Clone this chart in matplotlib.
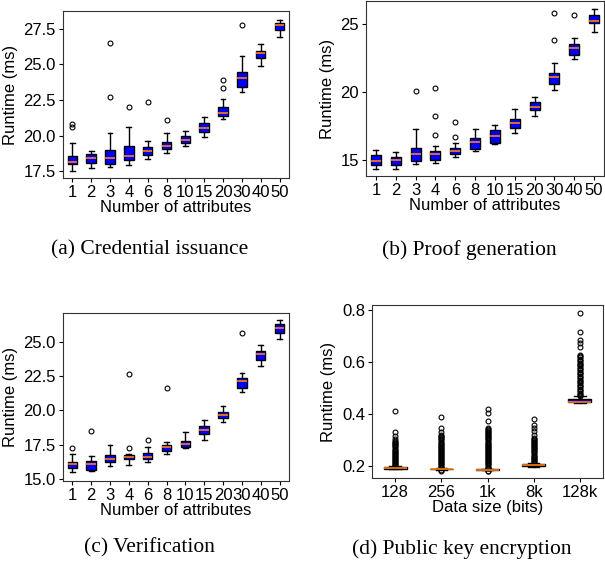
import matplotlib
matplotlib.use("Agg")
import matplotlib.pyplot as plt

# x labels
attrs = ["1", "2", "3", "4", "6", "8", "10", "15", "20", "30", "40", "50"]
sizes = ["128", "256", "1k", "8k", "128k"]

# (whislo, q1, med, q3, whishi) per box
issue_stats = [
    (17.55, 18.01, 18.15, 18.59, 19.48),
    (17.73, 18.08, 18.43, 18.73, 18.90),
    (17.78, 18.01, 18.43, 18.97, 20.22),
    (17.97, 18.27, 18.59, 19.24, 20.60),
    (18.36, 18.66, 18.94, 19.22, 19.66),
    (18.78, 19.08, 19.29, 19.59, 20.22),
    (19.24, 19.48, 19.71, 19.99, 20.36),
    (19.90, 20.29, 20.52, 20.92, 21.29),
    (21.15, 21.38, 21.62, 22.03, 22.55),
    (23.08, 23.38, 24.01, 24.43, 25.57),
    (24.87, 25.45, 25.80, 25.94, 26.45),
    (26.92, 27.38, 27.73, 27.92, 28.13),
]
issue_fliers = [[20.80, 20.64], [], [26.50, 22.73], [22.03], [22.34], [21.10],
                [], [], [23.90, 23.31], [27.78], [], []]

proof_stats = [
    (14.39, 14.63, 14.93, 15.37, 15.73),
    (14.39, 14.63, 15.00, 15.24, 15.61),
    (14.76, 14.93, 15.44, 15.90, 17.32),
    (14.80, 15.05, 15.44, 15.66, 16.05),
    (15.24, 15.44, 15.68, 15.90, 16.27),
    (15.66, 15.85, 16.34, 16.63, 17.32),
    (16.22, 16.29, 16.76, 17.20, 17.63),
    (17.02, 17.37, 17.76, 18.00, 18.78),
    (18.24, 18.66, 18.95, 19.27, 19.68),
    (20.20, 20.61, 21.10, 21.41, 22.15),
    (22.44, 22.76, 23.22, 23.54, 23.95),
    (24.39, 25.07, 25.24, 25.66, 26.10),
]
proof_fliers = [[], [], [20.07], [20.29, 18.29, 16.88], [17.78, 16.68], [],
                [], [], [], [25.85, 23.83], [25.66], []]

verif_stats = [
    (15.51, 15.80, 16.07, 16.24, 16.80),
    (15.56, 15.63, 16.07, 16.31, 16.65),
    (15.95, 16.24, 16.48, 16.78, 17.51),
    (16.05, 16.44, 16.60, 16.73, 16.80),
    (16.24, 16.44, 16.60, 16.92, 17.34),
    (16.80, 17.02, 17.34, 17.51, 17.70),
    (17.26, 17.34, 17.58, 17.77, 18.43),
    (17.87, 18.31, 18.60, 18.84, 19.33),
    (19.16, 19.48, 19.65, 19.89, 20.30),
    (21.35, 21.67, 22.15, 22.37, 22.74),
    (23.25, 23.71, 24.10, 24.32, 24.76),
    (25.24, 25.66, 26.05, 26.34, 26.63),
]
verif_fliers = [[17.29], [18.50], [], [22.69, 17.29], [17.87], [21.67],
                [], [], [], [25.68], [], []]

enc_stats = [
    (0.188, 0.190, 0.193, 0.197, 0.200),
    (0.187, 0.189, 0.190, 0.191, 0.193),
    (0.185, 0.186, 0.187, 0.188, 0.190),
    (0.199, 0.202, 0.204, 0.208, 0.212),
    (0.443, 0.446, 0.447, 0.458, 0.468),
]
enc_fliers = [
    [0.413, 0.330, 0.315, 0.305, 0.296, 0.292, 0.288, 0.284, 0.280, 0.276,
     0.272, 0.268, 0.264, 0.260, 0.256, 0.252, 0.248, 0.244, 0.240, 0.236,
     0.232, 0.228, 0.224, 0.220, 0.216, 0.212, 0.208, 0.204, 0.201],
    [0.389, 0.347, 0.330, 0.321, 0.315, 0.311, 0.307, 0.303, 0.299, 0.295,
     0.291, 0.287, 0.283, 0.279, 0.275, 0.271, 0.267, 0.263, 0.259, 0.255,
     0.251, 0.247, 0.243, 0.239, 0.235, 0.231, 0.227, 0.223, 0.219, 0.215,
     0.211, 0.207, 0.203, 0.199, 0.196, 0.184, 0.181],
    [0.420, 0.404, 0.372, 0.347, 0.343, 0.339, 0.335, 0.331, 0.327, 0.323,
     0.319, 0.315, 0.311, 0.307, 0.303, 0.299, 0.295, 0.291, 0.287, 0.283,
     0.279, 0.275, 0.271, 0.267, 0.263, 0.259, 0.255, 0.251, 0.247, 0.243,
     0.239, 0.235, 0.231, 0.227, 0.223, 0.219, 0.215, 0.211, 0.207, 0.203,
     0.199, 0.195, 0.192, 0.183, 0.181],
    [0.381, 0.360, 0.347, 0.334, 0.320, 0.309, 0.305, 0.301, 0.297, 0.293,
     0.289, 0.285, 0.281, 0.277, 0.273, 0.269, 0.265, 0.261, 0.257, 0.253,
     0.249, 0.245, 0.241, 0.237, 0.233, 0.229, 0.225, 0.221, 0.217, 0.214],
    [0.787, 0.715, 0.685, 0.675, 0.659, 0.628, 0.623, 0.618, 0.613, 0.608,
     0.603, 0.598, 0.593, 0.588, 0.583, 0.578, 0.573, 0.568, 0.563, 0.558,
     0.553, 0.548, 0.543, 0.538, 0.533, 0.528, 0.523, 0.518, 0.513, 0.508,
     0.503, 0.498, 0.493, 0.488, 0.483, 0.478, 0.473, 0.469],
]

plt.rcParams['font.family'] = ['Liberation Sans', 'DejaVu Sans']

fig = plt.figure(figsize=(6.05, 5.67), dpi=100)


def draw(rect, labels, stats, fliers, ylim, yticks, fmt, xlabel, caption, cap_xy):
    ax = fig.add_axes(rect)
    bx = []
    for lab, s, f in zip(labels, stats, fliers):
        bx.append(dict(label=lab, whislo=s[0], q1=s[1], med=s[2], q3=s[3],
                       whishi=s[4], fliers=f))
    ax.bxp(bx, patch_artist=True, widths=0.5,
           boxprops=dict(facecolor='#0000ff', edgecolor='black', linewidth=1),
           medianprops=dict(color='#ff7f0e', linewidth=1.2),
           whiskerprops=dict(color='black', linewidth=1),
           capprops=dict(color='black', linewidth=1),
           flierprops=dict(marker='o', markersize=3.5, markerfacecolor='none',
                           markeredgecolor='black', markeredgewidth=0.8))
    ax.set_ylim(*ylim)
    ax.set_yticks(yticks)
    ax.set_yticklabels([fmt % t for t in yticks])
    ax.tick_params(labelsize=12, length=3, pad=2)
    ax.set_ylabel('Runtime (ms)', fontsize=12, labelpad=4)
    ax.set_xlabel(xlabel, fontsize=12, labelpad=0)
    for sp in ax.spines.values():
        sp.set_color('#333333')
    fig.text(cap_xy[0] / 605, 1 - cap_xy[1] / 567, caption, ha='center',
             va='center', fontsize=15.5, family=['Liberation Serif', 'DejaVu Serif'])
    return ax


draw([0.104, 0.686, 0.3736, 0.2945], attrs, issue_stats, issue_fliers,
     (17.03, 28.73), [17.5, 20.0, 22.5, 25.0, 27.5], '%.1f',
     'Number of attributes', '(a) Credential issuance', (150, 250))
draw([0.605, 0.6896, 0.3934, 0.3086], attrs, proof_stats, proof_fliers,
     (13.85, 26.7), [15, 20, 25], '%d',
     'Number of attributes', '(b) Proof generation', (469, 250))
draw([0.104, 0.1517, 0.3736, 0.2963], attrs, verif_stats, verif_fliers,
     (14.85, 27.12), [15.0, 17.5, 20.0, 22.5, 25.0], '%.1f',
     'Number of attributes', '(c) Verification', (149, 548))
draw([0.6149, 0.157, 0.3818, 0.3051], sizes, enc_stats, enc_fliers,
     (0.155, 0.819), [0.2, 0.4, 0.6, 0.8], '%.1f',
     'Data size (bits)', '(d) Public key encryption', (462, 549))

fig.savefig('out.png', dpi=100)
